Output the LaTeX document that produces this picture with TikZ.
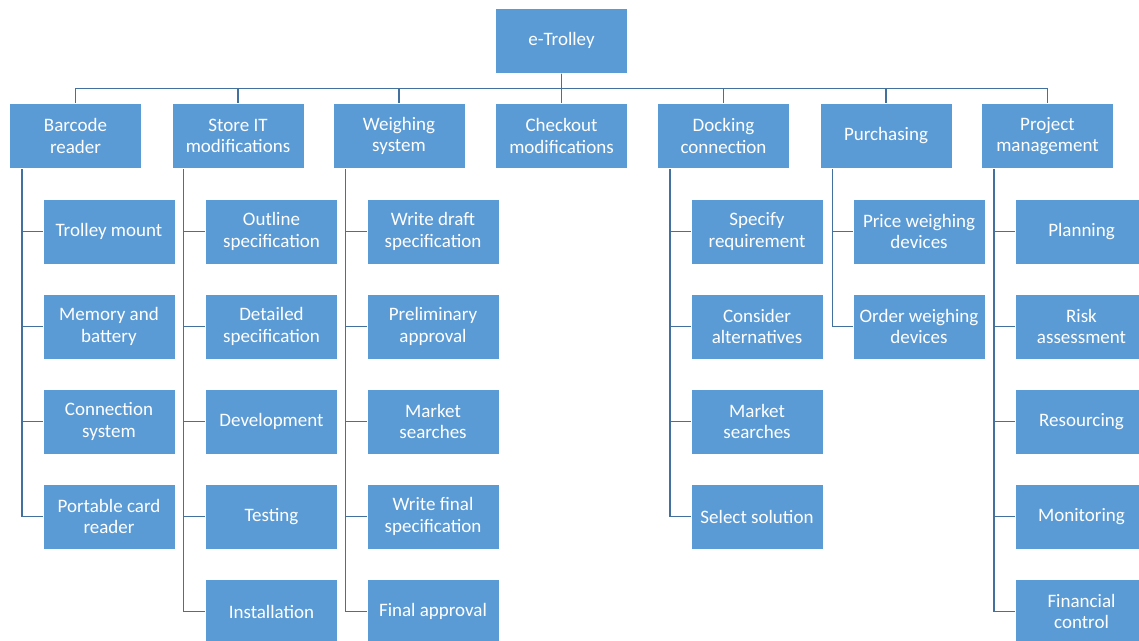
\documentclass[tikz,border=0pt]{standalone}
\usepackage{fontspec}
\setmainfont{Carlito}
\usepackage{tikz}
\usetikzlibrary{positioning}
\definecolor{boxblue}{RGB}{91,155,213}
\definecolor{lineblue}{RGB}{65,113,156}
\tikzset {
    style A/.style={
        fill=boxblue,
        draw=white,
        line width=1pt,
        text=white,
        rectangle, % Set the shape as a rectangle
        minimum width=132pt,
        minimum height=65pt,
        inner sep=0pt,
        align=center,
    },
    style E/.style={
        draw=lineblue,
        line width=1.8pt,
    },
}
\begin{document}
\begin{tikzpicture}
[x=1pt, y=-1pt, font=\fontsize{19}{21.5}\selectfont]
\useasboundingbox (0,0) rectangle (1139,640);
\clip (0,0) rectangle (1139,640);

\node[style A] at (561.5, 40.5) (etrolley) {e-Trolley};

\node[style A] at (75.5, 136) (barcode) {Barcode\\reader};
\node[style A] at (238, 136) (storeit) {Store IT\\modifications};
\node[style A] at (399, 136) (weighing) {Weighing\\system};
\node[style A] at (561.5, 136) (checkout) {Checkout\\modifications};
\node[style A] at (723.5, 136) (docking) {Docking\\connection};
\node[style A] at (886, 136) (purchasing) {Purchasing};
\node[style A] at (1047.5, 136) (project) {Project\\management};

\node[style A] at (109, 231.5) (trolley) {Trolley mount};
\node[style A] at (109, 326.5) (memory) {Memory and\\battery};
\node[style A] at (109, 421.5) (connsys) {Connection\\system};
\node[style A] at (109, 516.5) (cardreader) {Portable card\\reader};

\node[style A] at (271.5, 231.5) (outline) {Outline\\specification};
\node[style A] at (271.5, 326.5) (detailed) {Detailed\\specification};
\node[style A] at (271.5, 421.5) (development) {Development};
\node[style A] at (271.5, 516.5) (testing) {Testing};
\node[style A] at (271.5, 611.5) (installation) {Installation};

\node[style A] at (433, 231.5) (draftspec) {Write draft\\specification};
\node[style A] at (433, 326.5) (prelim) {Preliminary\\approval};
\node[style A] at (433, 421.5) (marketW) {Market\\searches};
\node[style A] at (433, 516.5) (finalspec) {Write final\\specification};
\node[style A] at (433, 611.5) (finalapp) {Final approval};

\node[style A] at (757, 231.5) (specify) {Specify\\requirement};
\node[style A] at (757, 326.5) (consider) {Consider\\alternatives};
\node[style A] at (757, 421.5) (marketD) {Market\\searches};
\node[style A] at (757, 516.5) (select) {Select solution};

\node[style A] at (919, 231.5) (price) {Price weighing\\devices};
\node[style A] at (919, 326.5) (order) {Order weighing\\devices};

\node[style A] at (1081.5, 231.5) (planning) {Planning};
\node[style A] at (1081.5, 326.5) (risk) {Risk\\assessment};
\node[style A] at (1081.5, 421.5) (resourcing) {Resourcing};
\node[style A] at (1081.5, 516.5) (monitoring) {Monitoring};
\node[style A] at (1081.5, 611.5) (financial) {Financial\\control};

% top level
\draw[style E] (etrolley.south) -- ++(0,15) -| (barcode.north);
\draw[style E] (etrolley.south) -- ++(0,15) -| (storeit.north);
\draw[style E] (etrolley.south) -- ++(0,15) -| (weighing.north);
\draw[style E] (etrolley.south) -- (checkout.north);
\draw[style E] (etrolley.south) -- ++(0,15) -| (docking.north);
\draw[style E] (etrolley.south) -- ++(0,15) -| (purchasing.north);
\draw[style E] (etrolley.south) -- ++(0,15) -| (project.north);

% second level
\draw[style E] (barcode.south west) ++(13,0) |- (trolley.west);
\draw[style E] (barcode.south west) ++(13,0) |- (memory.west);
\draw[style E] (barcode.south west) ++(13,0) |- (connsys.west);
\draw[style E] (barcode.south west) ++(13,0) |- (cardreader.west);

\draw[style E] (storeit.south west) ++(12,0) |- (outline.west);
\draw[style E] (storeit.south west) ++(12,0) |- (detailed.west);
\draw[style E] (storeit.south west) ++(12,0) |- (development.west);
\draw[style E] (storeit.south west) ++(12,0) |- (testing.west);
\draw[style E] (storeit.south west) ++(12,0) |- (installation.west);

\draw[style E] (weighing.south west) ++(13,0) |- (draftspec.west);
\draw[style E] (weighing.south west) ++(13,0) |- (prelim.west);
\draw[style E] (weighing.south west) ++(13,0) |- (marketW.west);
\draw[style E] (weighing.south west) ++(13,0) |- (finalspec.west);
\draw[style E] (weighing.south west) ++(13,0) |- (finalapp.west);

\draw[style E] (docking.south west) ++(13,0) |- (specify.west);
\draw[style E] (docking.south west) ++(13,0) |- (consider.west);
\draw[style E] (docking.south west) ++(13,0) |- (marketD.west);
\draw[style E] (docking.south west) ++(13,0) |- (select.west);

\draw[style E] (purchasing.south west) ++(13,0) |- (price.west);
\draw[style E] (purchasing.south west) ++(13,0) |- (order.west);

\draw[style E] (project.south west) ++(13,0) |- (planning.west);
\draw[style E] (project.south west) ++(13,0) |- (risk.west);
\draw[style E] (project.south west) ++(13,0) |- (resourcing.west);
\draw[style E] (project.south west) ++(13,0) |- (monitoring.west);
\draw[style E] (project.south west) ++(13,0) |- (financial.west);
\end{tikzpicture}
\end{document}
